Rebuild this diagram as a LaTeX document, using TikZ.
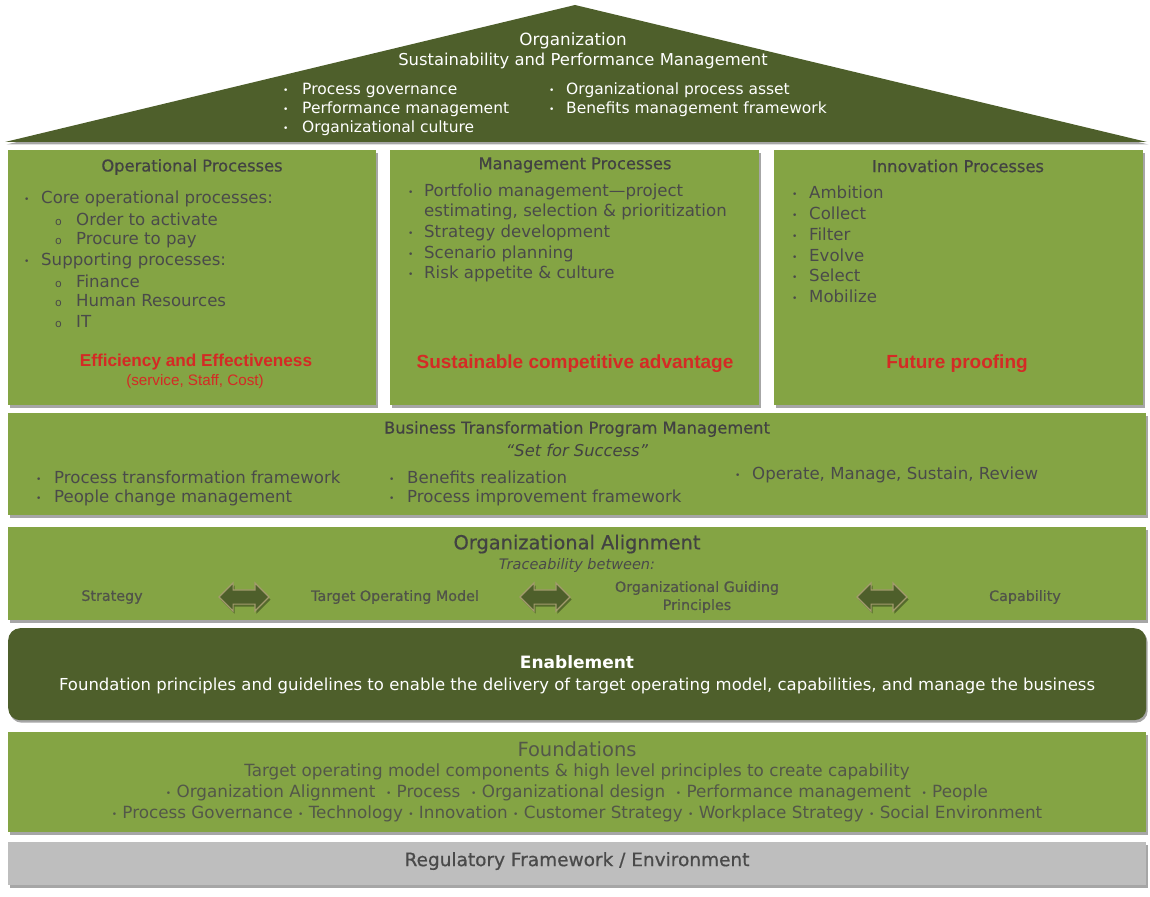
\documentclass[tikz,border=0pt]{standalone}
\usepackage{fontspec}
\setmainfont{DejaVu Sans}
\newfontfamily\arialf{Liberation Sans}
\newfontfamily\semib[FakeBold=0.6]{DejaVu Sans}
\usetikzlibrary{shapes.arrows,shadows}
\definecolor{dkg}{HTML}{4E5F2B}
\definecolor{ltg}{HTML}{84A444}
\definecolor{txg}{HTML}{4A4A4A}
\definecolor{ttl}{HTML}{424242}
\definecolor{redt}{HTML}{D42A25}
\definecolor{band}{HTML}{BEBEBE}
\definecolor{tanb}{HTML}{A39B6E}
\newcommand\bl[1][17pt]{\makebox[#1][l]{\raisebox{1pt}{\fontsize{9}{9}\selectfont•}}}
\newcommand\sbl{\makebox[21pt][l]{\fontsize{11}{11}\selectfont o}}
\newcommand\dm{{\fontsize{9}{9}\selectfont\raisebox{1pt}{•}}}
\begin{document}
\begin{tikzpicture}[x=1pt,y=-1pt,
  shd/.style={drop shadow={shadow xshift=1.5pt,shadow yshift=-2.5pt,opacity=0.35,fill=black}},
  gbox/.style={fill=ltg, shd, inner sep=0pt, anchor=north west},
  body/.style={font=\fontsize{16.6}{19}\selectfont, text=txg, anchor=west, inner sep=0pt},
  wbody/.style={body, font=\fontsize{15.5}{18}\selectfont, text=white},
  ttlf/.style={font=\semib\fontsize{16.3}{19}\selectfont, text=ttl, inner sep=0pt},
  redf/.style={font=\arialf\bfseries\fontsize{19}{22}\selectfont, text=redt, inner sep=0pt},
  lab/.style={font=\semib\fontsize{14.3}{18}\selectfont, text=txg!90!ltg, inner sep=0pt, align=center},
  dbl/.style={double arrow, fill=dkg, draw=tanb, line width=1.2pt, minimum height=50pt, minimum width=27pt, double arrow head extend=7pt, inner sep=0pt, shd},
  fnd/.style={font=\fontsize{16.8}{19}\selectfont, text=txg!85!ltg, inner sep=0pt}
]
\useasboundingbox[fill=white] (0,0) rectangle (1150,896);

% roof
\fill[dkg, shd] (5,142) -- (575,5) -- (1147,142) -- cycle;
\node[font=\fontsize{16.8}{19}\selectfont, text=white, inner sep=0pt] (r1) at (573,41) {Organization};
\node[font=\fontsize{16.4}{19}\selectfont, text=white, inner sep=0pt] (r2) at (583,61) {Sustainability and Performance Management};
\node[wbody] (ra) at (283,90) {\bl[19pt]Process governance};
\node[wbody] (rb) at (283,109) {\bl[19pt]Performance management};
\node[wbody] (rc) at (283,128) {\bl[19pt]Organizational culture};
\node[wbody] (rd) at (549,90) {\bl[17pt]Organizational process asset};
\node[wbody] (re) at (549,109) {\bl[17pt]Benefits management framework};

% three pillars
\node[gbox, minimum width=368pt, minimum height=255pt] (opbox) at (8,150) {};
\node[gbox, minimum width=369pt, minimum height=255pt] (mgbox) at (390,150) {};
\node[gbox, minimum width=369pt, minimum height=255pt] (inbox) at (774,150) {};

\node[ttlf] (opt) at (192,167) {Operational Processes};
\node[body] (op1) at (24,199) {\bl Core operational processes:};
\node[body] (op2) at (55,219) {\sbl Order to activate};
\node[body] (op3) at (55,240) {\sbl Procure to pay};
\node[body] (op4) at (24,261) {\bl Supporting processes:};
\node[body] (op5) at (55,281) {\sbl Finance};
\node[body] (op6) at (55,301) {\sbl Human Resources};
\node[body] (op7) at (55,322) {\sbl IT};
\node[redf, font=\arialf\bfseries\fontsize{17.2}{20}\selectfont] (opr) at (196,362) {Efficiency and Effectiveness};
\node[font=\arialf\fontsize{15.2}{17}\selectfont, text=redt, inner sep=0pt] (ops) at (195,382) {(service, Staff, Cost)};

\node[ttlf] (mgt) at (575,165) {Management Processes};
\node[body] (mg1) at (408,192) {\bl[16pt]Portfolio management—project};
\node[body] (mg2) at (424,212) {estimating, selection \& prioritization};
\node[body] (mg3) at (408,233) {\bl[16pt]Strategy development};
\node[body] (mg4) at (408,254) {\bl[16pt]Scenario planning};
\node[body] (mg5) at (408,274) {\bl[16pt]Risk appetite \& culture};
\node[redf] (mgr) at (575,364) {Sustainable competitive advantage};

\node[ttlf] (int) at (958,166) {Innovation Processes};
\node[body] (in1) at (792,192) {\bl Ambition};
\node[body] (in2) at (792,213) {\bl Collect};
\node[body] (in3) at (792,234) {\bl Filter};
\node[body] (in4) at (792,255) {\bl Evolve};
\node[body] (in5) at (792,275) {\bl Select};
\node[body] (in6) at (792,296) {\bl Mobilize};
\node[redf] (inr) at (957,364) {Future proofing};

% business transformation
\node[gbox, minimum width=1138pt, minimum height=102pt] (btbox) at (8,413) {};
\node[ttlf] (btt) at (577,429) {Business Transformation Program Management};
\node[ttlf, font=\itshape\fontsize{16.3}{19}\selectfont] (bts) at (577,450) {“Set for Success”};
\node[body] (bt1) at (36,477) {\bl[18pt]Process transformation framework};
\node[body] (bt2) at (36,498) {\bl[18pt]People change management};
\node[body] (bt3) at (389,477) {\bl[18pt]Benefits realization};
\node[body] (bt4) at (389,498) {\bl[18pt]Process improvement framework};
\node[body] (bt5) at (735,475) {\bl[17pt]Operate, Manage, Sustain, Review};

% organizational alignment
\node[gbox, minimum width=1138pt, minimum height=93pt] (oabox) at (8,527) {};
\node[ttlf, font=\semib\fontsize{19.4}{22}\selectfont] (oat) at (577,544) {Organizational Alignment};
\node[ttlf, font=\itshape\fontsize{14.5}{16}\selectfont, text=txg] (oas) at (577,565) {Traceability between:};
\node[lab] (s1) at (112,597) {Strategy};
\node[lab] (s2) at (395,597) {Target Operating Model};
\node[lab] (s3) at (697,597) {Organizational Guiding\\Principles};
\node[lab] (s4) at (1025,597) {Capability};
\node[dbl] (a1) at (244,597) {\rule{0pt}{13pt}};
\node[dbl] (a2) at (545,597) {\rule{0pt}{13pt}};
\node[dbl] (a3) at (882,597) {\rule{0pt}{13pt}};

% enablement
\node[fill=dkg, shd, rounded corners=12pt, inner sep=0pt, anchor=north west, minimum width=1138pt, minimum height=92pt] (enbox) at (8,628) {};
\node[font=\bfseries\fontsize{17}{20}\selectfont, text=white, inner sep=0pt] (ent) at (577,662) {Enablement};
\node[font=\fontsize{16.5}{19}\selectfont, text=white, inner sep=0pt] (ens) at (577,686) {Foundation principles and guidelines to enable the delivery of target operating model, capabilities, and manage the business};

% foundations
\node[gbox, minimum width=1138pt, minimum height=100pt] (fdbox) at (8,732) {};
\node[fnd, font=\fontsize{19.5}{22}\selectfont] (fdt) at (577,749) {Foundations};
\node[fnd] (fd1) at (577,772) {Target operating model components \& high level principles to create capability};
\node[fnd] (fd2) at (577,793) {\dm\ Organization Alignment \ \dm\ Process \ \dm\ Organizational design \ \dm\ Performance management \ \dm\ People};
\node[fnd] (fd3) at (577,814) {\dm\ Process Governance \dm\ Technology \dm\ Innovation \dm\ Customer Strategy \dm\ Workplace Strategy \dm\ Social Environment};

% regulatory
\node[fill=band, shd, inner sep=0pt, anchor=north west, minimum width=1138pt, minimum height=43pt] (rgbox) at (8,842) {};
\node[font=\semib\fontsize{18.5}{21}\selectfont, text=txg, inner sep=0pt] (rgt) at (577,861) {Regulatory Framework / Environment};
\end{tikzpicture}
\end{document}
